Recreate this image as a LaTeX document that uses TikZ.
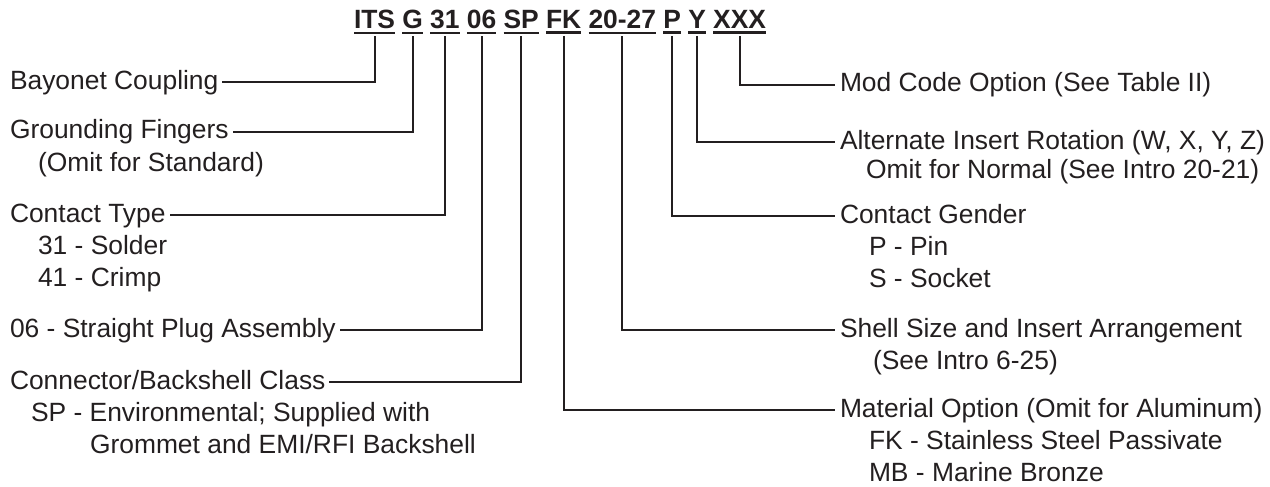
\documentclass[tikz,border=0pt]{standalone}
\usepackage{fontspec}
\setmainfont{Liberation Sans}
\usetikzlibrary{positioning}
\definecolor{ink}{HTML}{231F20}
\begin{document}
\begin{tikzpicture}[x=1pt,y=-1pt,
  every node/.style={inner sep=0pt, outer sep=0pt, text=ink, font=\fontsize{26.4}{31.5}\selectfont},
  lbl/.style={anchor=base west},
  code/.style={font=\fontsize{26.4}{31.5}\selectfont\bfseries, inner xsep=0pt, inner ysep=3.5pt},
  conn/.style={draw=ink, line width=2pt},
  uline/.style={draw=ink, line width=2.2pt}]
\useasboundingbox (0,0) rectangle (1270,487);
% header codes
\node[code, anchor=base west] (cITS) at (354,29) {ITS};
\node[code, base right=7.3pt of cITS] (cG) {G};
\node[code, base right=7.3pt of cG] (c31) {31};
\node[code, base right=7.3pt of c31] (c06) {06};
\node[code, base right=7.3pt of c06] (cSP) {SP};
\node[code, base right=7.3pt of cSP] (cFK) {FK};
\node[code, base right=7.3pt of cFK] (cSS) {20-27};
\node[code, base right=7.3pt of cSS] (cP) {P};
\node[code, base right=7.3pt of cP] (cY) {Y};
\node[code, base right=7.3pt of cY] (cX) {XXX};
\foreach \n in {cITS,cG,c31,c06,cSP,cFK,cSS,cP,cY,cX}
  \draw[uline] (\n.south west) -- (\n.south east);
% left labels
\node[lbl] (lBay) at (10,89) {Bayonet Coupling};
\node[lbl] (lGnd) at (10,139) {Grounding Fingers};
\node[lbl] (lGnd2) at (38,171) {(Omit for Standard)};
\node[lbl] (lCT) at (10,222) {Contact Type};
\node[lbl] (lCT2) at (38,254) {31 - Solder};
\node[lbl] (lCT3) at (38,286) {41 - Crimp};
\node[lbl] (lSP) at (10,337) {06 - Straight Plug Assembly};
\node[lbl] (lCB) at (10,389) {Connector/Backshell Class};
\node[lbl] (lCB2) at (31,421) {SP - Environmental; Supplied with};
\node[lbl] (lCB3) at (90,453) {Grommet and EMI/RFI Backshell};
% right labels
\node[lbl] (rMod) at (840,92) {Mod Code Option (See Table II)};
\node[lbl] (rAlt) at (840,149) {Alternate Insert Rotation (W, X, Y, Z)};
\node[lbl] (rAlt2) at (866,178) {Omit for Normal (See Intro 20-21)};
\node[lbl] (rCG) at (840,223) {Contact Gender};
\node[lbl] (rCG2) at (869,255) {P - Pin};
\node[lbl] (rCG3) at (869,287) {S - Socket};
\node[lbl] (rSS) at (840,337) {Shell Size and Insert Arrangement};
\node[lbl] (rSS2) at (873,369) {(See Intro 6-25)};
\node[lbl] (rMat) at (840,417) {Material Option (Omit for Aluminum)};
\node[lbl] (rMat2) at (869,449) {FK - Stainless Steel Passivate};
\node[lbl] (rMat3) at (869,481) {MB - Marine Bronze};
% connectors left
\draw[conn] ([yshift=-3.5pt]cITS.south) |- ([xshift=4pt,yshift=7pt]lBay.base east);
\draw[conn] ([yshift=-3.5pt]cG.south) |- ([xshift=4pt,yshift=7pt]lGnd.base east);
\draw[conn] ([yshift=-3.5pt]c31.south) |- ([xshift=4pt,yshift=7pt]lCT.base east);
\draw[conn] ([yshift=-3.5pt]c06.south) |- ([xshift=4pt,yshift=7pt]lSP.base east);
\draw[conn] ([yshift=-3.5pt]cSP.south) |- ([xshift=4pt,yshift=7pt]lCB.base east);
% connectors right
\draw[conn] ([yshift=-3.5pt]cFK.south) |- ([xshift=-5pt,yshift=7pt]rMat.base west);
\draw[conn] ([yshift=-3.5pt]cSS.south) |- ([xshift=-5pt,yshift=7pt]rSS.base west);
\draw[conn] ([yshift=-3.5pt]cP.south) |- ([xshift=-5pt,yshift=7pt]rCG.base west);
\draw[conn] ([yshift=-3.5pt]cY.south) |- ([xshift=-5pt,yshift=7pt]rAlt.base west);
\draw[conn] ([yshift=-3.5pt]cX.south) |- ([xshift=-5pt,yshift=7pt]rMod.base west);
\end{tikzpicture}
\end{document}
